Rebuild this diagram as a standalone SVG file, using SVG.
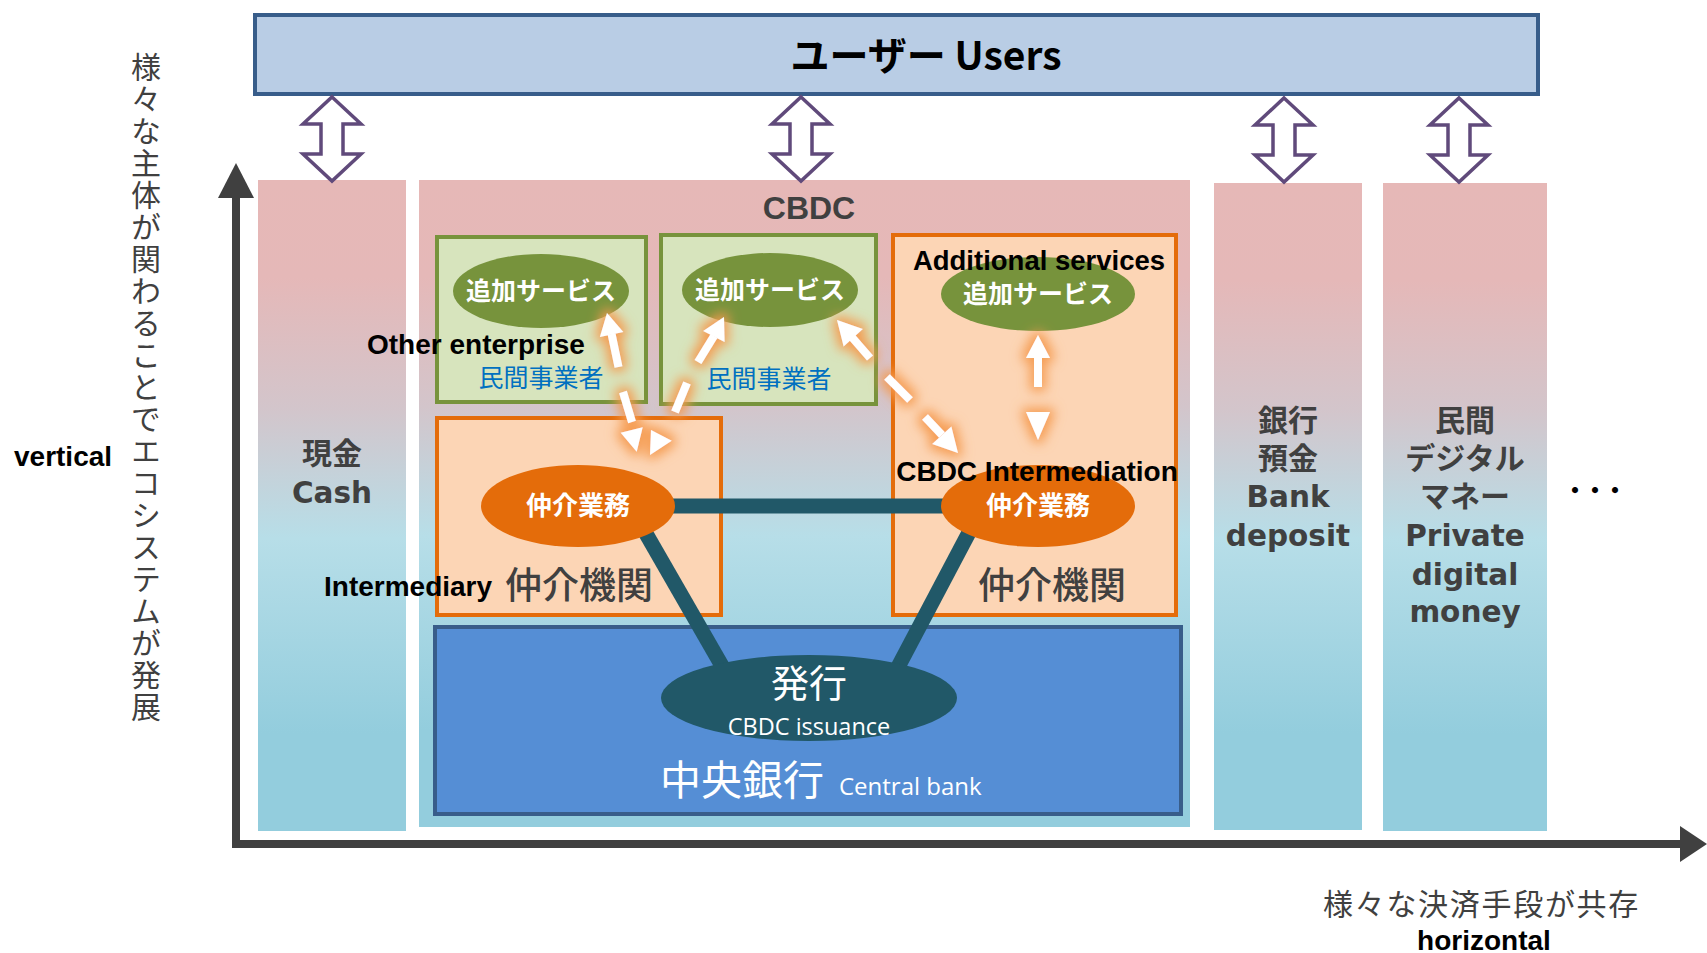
<svg xmlns="http://www.w3.org/2000/svg" width="1707" height="953" viewBox="0 0 1707 953">
  <style>
    .jp { font-family: "Noto Sans CJK JP", "Noto Sans", sans-serif; }
    .en { font-family: "Liberation Sans", Arial, sans-serif; font-weight: bold; fill: #000; }
    .col-text { font-weight: bold; fill: #404040; text-anchor: middle; }
    .col-label { font-family: "DejaVu Sans", "Noto Sans CJK JP", sans-serif; font-size: 29.5px; }
    .col-jp { font-family: "Noto Sans CJK JP", sans-serif; font-size: 30px; }
    .col-bg { stroke: none; }
    .green-box { fill: #D7E4BD; stroke: #77933C; stroke-width: 4; }
    .orange-box { fill: #FCD5B5; stroke: #E46C0A; stroke-width: 4; }
    .green-ell { fill: #77933C; }
    .orange-ell { fill: #E46C0A; }
    .ell-label { font-family: "Noto Sans CJK JP", sans-serif; font-weight: bold; fill: #fff; text-anchor: middle; }
    .biz { font-family: "Noto Sans CJK JP", sans-serif; fill: #0070C0; font-size: 25px; text-anchor: middle; }
    .inst { font-family: "Noto Sans CJK JP", sans-serif; fill: #404040; font-size: 37px; text-anchor: middle; font-weight: 500; }
    .user-arrow { fill: #fff; stroke: #604A7B; stroke-width: 3.5; stroke-linejoin: miter; }
    .link { stroke: #215868; stroke-width: 15; fill: none; }
    .flow { stroke: #fff; stroke-width: 8; fill: none; }
    .flow-head { fill: #fff; }
    .axis { stroke: #404040; stroke-width: 8; fill: none; }
  </style>
  <defs>
    <linearGradient id="colGrad" x1="0" y1="0" x2="0" y2="1">
      <stop offset="0" stop-color="#E6B8B7"/>
      <stop offset="0.15" stop-color="#E5B8B8"/>
      <stop offset="0.35" stop-color="#D3C5CB"/>
      <stop offset="0.55" stop-color="#B7DEE8"/>
      <stop offset="0.85" stop-color="#93CDDD"/>
      <stop offset="1" stop-color="#93CDDD"/>
    </linearGradient>
    <filter id="glow" x="-60%" y="-60%" width="220%" height="220%">
      <feMorphology in="SourceAlpha" operator="dilate" radius="4" result="thick"/>
      <feGaussianBlur in="thick" stdDeviation="6" result="soft"/>
      <feFlood flood-color="#F59A4E" flood-opacity="0.95"/>
      <feComposite in2="soft" operator="in" result="halo"/>
      <feMerge>
        <feMergeNode in="halo"/>
        <feMergeNode in="SourceGraphic"/>
      </feMerge>
    </filter>
  </defs>

  <rect width="1707" height="953" fill="#fff"/>

  <!-- axes -->
  <g id="axes">
    <polyline class="axis" points="236,195 236,844 1685,844"/>
    <polygon points="236,163 254,198 218,198" fill="#404040"/>
    <polygon points="1707,844 1680,826 1680,862" fill="#404040"/>
    <text class="jp" x="146" y="52" font-size="30" fill="#404040" letter-spacing="2" style="writing-mode: vertical-rl;">様々な主体が関わることでエコシステムが発展</text>
    <text class="en" x="14" y="466" font-size="28">vertical</text>
    <text class="jp" x="1323" y="915" font-size="30" fill="#404040" letter-spacing="1.7">様々な決済手段が共存</text>
    <text class="en" x="1484" y="950" font-size="28" text-anchor="middle">horizontal</text>
  </g>

  <!-- payment columns -->
  <g id="cash">
    <rect class="col-bg" x="258" y="180" width="148" height="651" fill="url(#colGrad)"/>
    <text class="col-text" x="332" y="464"><tspan class="col-jp">現金</tspan><tspan class="col-label" x="332" dy="39">Cash</tspan></text>
  </g>
  <g id="cbdc">
    <rect class="col-bg" x="419" y="180" width="771" height="647" fill="url(#colGrad)"/>
    <text x="809" y="219" font-family="Liberation Sans, Arial, sans-serif" font-weight="bold" font-size="32" fill="#404040" text-anchor="middle">CBDC</text>
  </g>
  <g id="bank-deposit">
    <rect class="col-bg" x="1214" y="183" width="148" height="647" fill="url(#colGrad)"/>
    <text class="col-text" x="1288" y="431"><tspan class="col-jp">銀行</tspan><tspan class="col-jp" x="1288" dy="38">預金</tspan><tspan class="col-label" x="1288" dy="38">Bank</tspan><tspan class="col-label" x="1288" dy="39">deposit</tspan></text>
  </g>
  <g id="private-money">
    <rect class="col-bg" x="1383" y="183" width="164" height="648" fill="url(#colGrad)"/>
    <text class="col-text" x="1465" y="431"><tspan class="col-jp">民間</tspan><tspan class="col-jp" x="1465" dy="38">デジタル</tspan><tspan class="col-jp" x="1465" dy="38">マネー</tspan><tspan class="col-label" x="1465" dy="39">Private</tspan><tspan class="col-label" x="1465" dy="39">digital</tspan><tspan class="col-label" x="1465" dy="37">money</tspan></text>
  </g>
  <g id="others">
    <text x="1593" y="499" font-family="Noto Sans CJK JP, sans-serif" font-weight="bold" font-size="24" letter-spacing="-4" text-anchor="middle" fill="#000">・・・</text>
  </g>

  <!-- users -->
  <g id="users">
    <rect x="255" y="15" width="1283" height="79" fill="#B9CDE5" stroke="#385D8A" stroke-width="4"/>
    <text class="jp" x="926" y="70" font-size="39" font-weight="bold" fill="#000" text-anchor="middle">ユーザー Users</text>
  </g>

  <!-- user access arrows -->
  <g id="user-links">
    <path class="user-arrow" d="M332,97 L361,124 L343,124 L343,154 L361,154 L332,181 L303,154 L321,154 L321,124 L303,124 Z"/>
    <path class="user-arrow" d="M801,97 L830,124 L812,124 L812,154 L830,154 L801,181 L772,154 L790,154 L790,124 L772,124 Z"/>
    <path class="user-arrow" d="M1284,98 L1313,125 L1295,125 L1295,155 L1313,155 L1284,182 L1255,155 L1273,155 L1273,125 L1255,125 Z"/>
    <path class="user-arrow" d="M1459,98 L1488,125 L1470,125 L1470,155 L1488,155 L1459,182 L1430,155 L1448,155 L1448,125 L1430,125 Z"/>
  </g>

  <!-- service providers and intermediaries -->
  <g id="enterprise-1">
    <rect class="green-box" x="437" y="237" width="209" height="165"/>
    <text class="biz" x="541" y="387">民間事業者</text>
  </g>
  <g id="enterprise-2">
    <rect class="green-box" x="661" y="235" width="215" height="169"/>
    <text class="biz" x="769" y="388">民間事業者</text>
  </g>
  <g id="intermediary-1">
    <rect class="orange-box" x="437" y="418" width="284" height="197"/>
    <text class="inst" x="579" y="599">仲介機関</text>
  </g>
  <g id="intermediary-2">
    <rect class="orange-box" x="893" y="235" width="283" height="380"/>
    <text class="inst" x="1052" y="599">仲介機関</text>
  </g>
  <g id="central-bank">
    <rect x="435" y="627" width="746" height="187" fill="#558ED5" stroke="#385D8A" stroke-width="4"/>
    <text class="jp" x="660" y="795" font-size="41" fill="#fff">中央銀行</text>
    <text x="839" y="795" font-family="Open Sans, Liberation Sans, sans-serif" font-size="24" fill="#fff">Central bank</text>
  </g>

  <!-- links between intermediaries and the central bank -->
  <g id="connectors">
    <line class="link" x1="660" y1="506" x2="955" y2="506"/>
    <line class="link" x1="633" y1="511" x2="733" y2="685"/>
    <line class="link" x1="983" y1="506" x2="888" y2="686"/>
  </g>

  <!-- service and intermediation nodes -->
  <g id="service-1">
    <ellipse class="green-ell" cx="541" cy="291" rx="88" ry="37"/>
    <text class="ell-label" x="541" y="300" font-size="25">追加サービス</text>
  </g>
  <g id="service-2">
    <ellipse class="green-ell" cx="770" cy="290" rx="88" ry="37"/>
    <text class="ell-label" x="770" y="299" font-size="25">追加サービス</text>
  </g>
  <g id="service-3">
    <ellipse class="green-ell" cx="1038" cy="294" rx="97" ry="37"/>
    <text class="ell-label" x="1038" y="303" font-size="25">追加サービス</text>
  </g>
  <g id="intermediation-1">
    <ellipse class="orange-ell" cx="578" cy="506" rx="97" ry="41"/>
    <text class="ell-label" x="578" y="515" font-size="26">仲介業務</text>
  </g>
  <g id="intermediation-2">
    <ellipse class="orange-ell" cx="1038" cy="506" rx="97" ry="41"/>
    <text class="ell-label" x="1038" y="515" font-size="26">仲介業務</text>
  </g>
  <g id="issuance">
    <ellipse cx="809" cy="698" rx="148" ry="43" fill="#215868"/>
    <text class="jp" x="809" y="697" font-size="38" fill="#fff" text-anchor="middle">発行</text>
    <text x="809" y="735" font-family="Open Sans, Liberation Sans, sans-serif" font-size="23.5" fill="#fff" text-anchor="middle">CBDC issuance</text>
  </g>

  <!-- dashed two-way service flows -->
  <g id="flows" filter="url(#glow)">
    <polygon class="flow-head" points="607,313 623.3,332 599.9,337"/>
    <line class="flow" x1="611.6" y1="334" x2="618.5" y2="367"/>
    <line class="flow" x1="623" y1="392" x2="632" y2="422"/>
    <polygon class="flow-head" points="620.7,432.7 642.7,427.3 636.7,451.7"/>

    <polygon class="flow-head" points="724,317 724.6,342.1 703.2,331.1"/>
    <line class="flow" x1="714" y1="336" x2="698" y2="362"/>
    <line class="flow" x1="687" y1="383" x2="675" y2="412"/>
    <polygon class="flow-head" points="651,430 671.7,440.7 650,455"/>

    <polygon class="flow-head" points="837,320 862.8,329 843.6,346.5"/>
    <line class="flow" x1="850" y1="335" x2="870" y2="358"/>
    <line class="flow" x1="887" y1="377" x2="910" y2="400"/>
    <line class="flow" x1="925" y1="417" x2="942" y2="435"/>
    <polygon class="flow-head" points="958,453 951.4,426.5 932.2,444"/>

    <polygon class="flow-head" points="1038,335 1050,358 1026,358"/>
    <line class="flow" x1="1038" y1="357" x2="1038" y2="387"/>
    <polygon class="flow-head" points="1038,440 1050,412 1026,412"/>
  </g>

  <!-- free-standing English captions -->
  <g id="captions">
    <text class="en" x="367" y="354" font-size="28">Other enterprise</text>
    <text class="en" x="1039" y="270" font-size="27.5" text-anchor="middle">Additional services</text>
    <text class="en" x="1037" y="481" font-size="28" text-anchor="middle">CBDC Intermediation</text>
    <text class="en" x="324" y="596" font-size="28">Intermediary</text>
  </g>
</svg>
